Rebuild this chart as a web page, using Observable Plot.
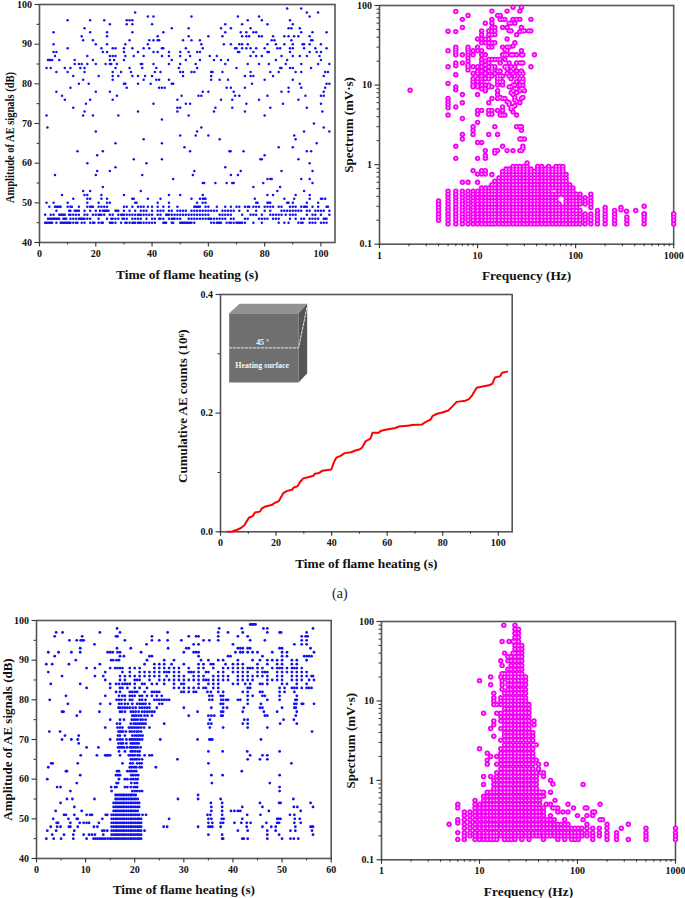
<!DOCTYPE html>
<html><head><meta charset="utf-8">
<script src="https://cdn.jsdelivr.net/npm/d3@7"></script>
<script src="https://cdn.jsdelivr.net/npm/@observablehq/plot@0.6"></script>
<style>html,body{margin:0;padding:0;background:#fff}#page{position:relative;width:685px;height:898px;overflow:hidden}
#cap{position:absolute;left:332px;top:586px;font:14px "Liberation Serif",serif;color:#222}</style></head>
<body><div id="page"><div id="cap">(a)</div></div>
<script>
// Panel (a) top-left: amplitude (dB) -> times (s)
const ampRowsA = [
[45,[2,2.5,3,3.5,4,4.5,6,7.5,8,8.5,9,9.5,10,10.5,11,12,13,13.5,15,16,18,19,19.5,21,22,22.5,25,25.5,26,27,29,30.5,31,32,33,33.5,34,35,35.5,36,37,38,39,40,41,44,44.5,45,47,47.5,50,50.5,51,51.5,52,52.5,53,53.5,54,55,61,62,63,63.5,64,64.5,66.5,67.5,68,69,70,70.5,71,71.5,72,73,76,79,85,87,88.5,92,93,93.5,96,97,98,100,101,102]],
[46,[3,3.5,4,4.5,5,5.5,6,6.5,7,8.5,9,9.5,11,12,13,14,14.5,15,15.5,16,17,18,21,24,25.5,26,27,28,29.5,30,31,33,34,35,36,38,40,41,42.5,43,44,46,47,47.5,48,49,50,53,54,55,56,57,58,59,60,60.5,61,62,63,64,65,66,68,69,73,74,78,79,80,81,83,84,85,89,91,93,94,96,97,98,99,101,101.5,102]],
[47,[2,4,5,7,7.5,8,8.5,9,10.5,11,12,13,14,16,17,19,20,21,21.5,22,23,25,26,28,29,29.5,30,31,32,33,34,35,35.5,36,37,38,39,40,42,43,45,45.5,46,47,48,49,50,51,52,53,54,55,56,57,58,59,60,64,65,66,67,68,72,75,76,77,79,82,83,84,85,86,87.5,89,90,91,95,97,98,100,103]],
[48,[6,10.5,11,12.5,13,13.5,14,16,18,20,21.5,22.5,23,23.5,24,24.5,27,27.5,28,30,32,34,36,37,38,40,42,43,44,46,47,49,50,51,52,54,55,56,57,58,59,60,61,62,63,65,66,67,68,69,71,74,77,80,82,86,87,88,89,90,91,92,93,95,96,98,99,100,101,103]],
[49,[3.5,5.5,6,6.5,7,7.5,10,11,11.5,14,17,18,18.5,19,21,22,23,24,30,31,33,35,36,37,38.5,40,42,44,46,49,55,55.5,56,56.5,57,59,60,63,66,68,70,71,73,74,74.5,76,77,78,80,81,82,83,85,86,89,90,91,93,94,94.5,95,97,99,102,102.5]],
[50,[2.5,5,10,17,21,24,25,34,34.5,42,46,56,58,59,77,77.5,81,81.5,82,88,88.5,90,95,99]],
[51,[12,17,18,22,24,33,33.5,38.5,43,54,57,58,58.5,59,76.5,87,90.5,96,100,100.5,101.5]],
[52,[8,16,17,22,30,46,50,58,81,83,91,96]],[53,[15.5,18,36,84.5,94]],[54,[22.5,76,85.5]],
[55,[58,58.5,62.5,66.5,68.5,69,79.5,97]],[56,[47.5,81,82,82.5,93,96]],[57,[5.5,20,36.5,54.5,68,70.5]],
[58,[20.5,25,55,71.5,86,97]],[59,[27,66]],[60,[17,38,96]],[61,[33.5,43.5,78.5,79,92]],[62,[20.5,80]],
[63,[13.5,22.5,53.5,67.5,67.9,72.5,95,96.5]],[64,[51.5,85,90]],[65,[27,43.5,98.5]],[66,[37,64,91]],
[67,[50,55.5,60,90.5]],[68,[20,56,94,103]],[69,[2.8,57.5,101]],[70,[97.5]],[71,[43.5]],
[72,[2.5,15.5,19,28,53,80]],[73,[16,35,49,62,73,100.5]],[74,[12,49,50,62.5,68.5,82,95]],
[75,[16.5,40.5,52,53.5,73.5,86.5,100]],[76,[9,18,26,49,64.5,68.5,78,92]],
[77,[8,27.5,50.5,56.5,57.5,69.5,71,81,94.5,100,101]],[78,[6,20,25,58,60,69,86,88.5,101]],
[79,[11,31,42.5,43.5,44.5,66.5,68,73,88.5,93,101.5]],[80,[14,17.5,30,30.5,35,39.5,47,47.5,75.5,92.5,102,103]],
[81,[15.5,26,37,41.5,42.5,46,61,64,67,80,90]],
[82,[12,21,26,28,33,35,37.5,40,51,61,73,75,76,83,101]],
[83,[6,10,16,26,29,32.5,41,43,50,51,54,55,61,61.5,65,75,82,85,91,93,101.5,102.5]],
[84,[2.5,4,9,11,14.5,16,27,32,36.5,41.5,49.5,56,70,85.5,86,89,90,96.5]],
[85,[12.5,14,15,17,20,23.5,25,25.5,27.5,36,36.5,40.5,46,50,55.5,66,74,78,81.5,87.5,93,99,103]],
[86,[3,3.5,4,4.5,7,12.5,19,25,26.5,30,47,52,57,62,64.5,67,84,88,100]],
[87,[5.5,17,25,26,27,30.5,33.5,37,43.5,46,50,53.5,60.5,63,75,77,79,86,90,92.5,95,99.5]],
[88,[5,6,22.5,24,30,35,40.5,42,46,50,53,56,57,70.5,71,76,81,81.5,89,96,98.5,100]],
[89,[10,22,26,27,30,33,37,39,43.5,44,52,58,69.5,70,72,73.5,75,77,80,84.5,85.5,89,90,94,98,102]],
[90,[5,20,24,30.5,38.5,57.5,65.5,68,71,72,74,81,84,87,90,93.5,94,96,100]],
[91,[15.5,19,32,39,40.5,42,42.5,51,54,57,82.5,83.5,89.5,96.5,97]],
[92,[15,24,42,53,60,65,72,73.5,74.5,78,79,83,87,88.5,90.5,92,96]],
[93,[5,18,24,33,44,66,71.5,73.5,76,77,93,97,102]],[94,[16,47,53,64.5,68,75,88.5,89.5,92.5]],
[95,[25,31,33,40,66,72,81,90]],[96,[10,18,23,31,32,33,74,79,89]],[97,[38.5,40.5,54,70.5,78,96]],
[98,[34,95,99]],[99,[88,93]]];

// Spectrum levels seen in the top-right panel
const levelsB = [.18,.2,.22,.24,.265,.29,.32,.35,.385,.425,.465,.51,.56,.62,.68,.75,.82,.88,.95,1.05];
// frequency, lowest level, highest level of each filled run
const bandsB = [[4,.2,.37],[5,.18,.465],[6,.18,.465],[7,.18,.465],[8,.18,.465],[9,.18,.465],[10,.18,.465],[11,.18,.51],[12,.18,.51],[13,.18,.51],[14,.18,.56],[15,.18,.62],[16.5,.18,.68],[18,.18,.82],[19.5,.18,.88],[21,.18,.88],[23,.18,.95],[25,.18,.95],[27,.18,.95],[29.5,.18,.95],[32,.18,1.05],[35,.18,.88],[38,.18,.82],[41,.18,.95],[45,.18,.95],[49,.18,.88],[53,.18,.465],[53,.56,.95],[58,.18,.425],[58,.51,.88],[63,.18,.425],[63,.51,.95],[68,.18,.32],[68,.425,.95],[74,.18,.29],[74,.425,.95],[80,.18,.265],[80,.32,.465],[80,.56,.75],[87,.18,.24],[87,.29,.56],[94,.18,.265],[94,.32,.51],[102,.18,.24],[102,.29,.425],[111,.18,.265],[111,.32,.425],[125,.18,.24],[125,.32,.385],[143,.18,.24],[143,.29,.425],[167,.18,.265],[200,.18,.29],[250,.18,.265],[333,.18,.22],[500,.18,.24],[1000,.18,.24]];
const looseB = [[2.05,[8.6]],[5,[47.5,27,17,10.5,6.8,6.2,5.7,5.2,4.2]],[6,[84,47,30,28,26,24,19,17.5,13.5,9.5,8.7,5.3,1.7,1.2]],[7,[67,53,24,19,7.6,6,3.8,2.4,2.1,.6]],[8,[75,30,28,26,24,22,20,18,17,15.5,.6]],[9,[27,24,17,14,12,11,10,9.5,3,2.7,2.4,.84]],[10,[38,30,27,17,15,14,12,11,10,9.5,7.6,4.8,4.3,3.4,1.9,1.2,.76,.6]],[11,[48,43,38,34,27,24,21,19,17,15,13,11,10,9,4.8,1.9,.84,.76]],[12,[60,38,34,24,20,18,16,14,12,10,9,8.5,1.5,1.3,1.2,.84,.76]],[13,[48,43,38,34,30,21,19,17,15,13,12,10,9.5,6,4.8,4.3,2.4]],[14,[85,67,60,53,43,34,30,21,17,16,15,13,9.5,6.8,4.8,4.3,.75]],[15,[53,48,43,34,21,17,14,3,1.5,1.4]],[16,[75,21,15,13,12,11,10,8.5,7.6,6.8,4.8,2.4,1.5]],[17,[75,67,21,19,15,13,12,11,7,4.2]],[18,[67,53,30,24,13,11,10,6.8,5.3,4.8,4.2,1.7]],[19,[67,28,24,21,17,6.8,4.2]],[20,[85,53,38,30,27,24,17,16,14,6.2,1.5]],[21,[60,48,30,19,13,9.5,6,5.7]],[22,[60,48,24,17,15,12,9.5,8,5.3,5]],[23,[95,67,31,24,16,14,10,8.5,7.6,5.3,4.6,1.5]],[24,[60,34,17,13,10,9,7,6.5,5.5]],[25,[67,43,24,19,15,11,9,8,6.2,4.2,3]],[27,[85,67,47,19,14,12,10,8.5,6,3,2.1,1.5]],[28,[95,53,27,24,19,15,13,11,9,6.8,3,2.7,2.1,1.5]],[29,[48,24,19,14,12,11,10,9,7,1.7,1.6]],[30,[48,8.5,2.1]],[33,[48]],[35,[67,48,17]],[38,[24]],[290,[.29,.27]],[330,[.26]],[410,[.265]],[500,[.3,.24]],[1000,[.24]]];

// Cumulative curve, middle panel
const curveT = [2.6,4.2,6,7.2,8.6,10.2,11.6,12.4,14.2,14.8,16.2,18.4,19.6,21,22.6,24,25.8,26.4,27.8,28.6,29.8,31.5,33.4,34,35.4,36.7,39.9,40.8,41.7,43.2,44.7,47,48.6,50.2,51,52.3,54,54.7,57,57.6,59.4,63,64.2,68.2,68.7,72.6,73.8,75.6,76.4,78,79.8,82,83.4,85,88.2,89.4,90.6,92.2,93.9,96.6,97.8,98.8,100.6,101.4,103.2];
const curveC = [0,.0006,.0034,.006,.011,.0236,.0264,.0326,.034,.039,.0427,.045,.049,.0517,.065,.069,.071,.0747,.077,.084,.09,.092,.0944,.098,.099,.103,.105,.117,.125,.128,.1326,.134,.137,.139,.142,.153,.157,.167,.167,.17,.172,.175,.1775,.179,.18,.181,.185,.189,.1955,.199,.201,.2045,.211,.219,.221,.2236,.23,.2427,.2444,.247,.2494,.26,.262,.268,.27];
// Inset block, in the axes' units
const blockTop = [[3.12,.3685],[6.84,.3843],[31.2,.3843],[28.1,.3685]];
const blockSide = [[28.1,.3685],[31.2,.3843],[31.2,.2674],[28.1,.2517]];
const blockFront = [[3.12,.3685],[28.1,.3685],[28.1,.2517],[3.12,.2517]];
const blockDash = [[3.12,.31],[28.1,.31],[31.2,.38]];

// Panel bottom-left: dense block times, then rows
const denseT = [15.3,15.7,16.1,16.4,16.8,17.2,17.6,17.9,18.3,18.7,19.1,19.4,19.8,20.2,20.6,20.9,21.3];
const denseRows = [[45,15.3,21.3],[46,15.3,21.3],[47,15.3,21.3],[48,15.3,21.3],[49,15.3,21.3],[50,15.3,21.3],[51,15.3,21],[52,15.7,20.6],[53,15.7,20.9],[54,15.7,20.9],[55,16.1,20.6],[56,16.1,20.2]];
const ampRowsD = [
[45,[2,3.5,5,7.5,10.2,11.6,12,12.4,12.8,13.2,13.6,14,14.5,15,37.8,38,41.9,42.2,43,47,50,51.7,52.4,53.3]],
[46,[3.2,5.6,7.5,9.6,10.7,11.3,11.9,13.6,35,37.8,47,49.4,56.3]],
[47,[2.2,4,7.7,13.4,13.8,14.4,22,41,43,47,48.7,51.7,52.7,56.1]],
[48,[2.9,4.2,4.9,6.6,6.9,8.4,11.7,12.4,25.9,26.6,32.9,35,35.4,35.8,37.5,42.8,46,47.8,48.7,52.7,55.8,56.1,56.3]],
[49,[4.1,4.4,6.9,8.8,9.6,10.2,10.7,12.7,35,35.8,37.5,38,40.3,41.7,42.8,43.6,46.8,49,49.4,52.5,53.8]],
[50,[3.4,6.5,8.2,8.4,13.4,27,35,35.6,37.7,38.1,41.9,49,49.3,49.7,52.6,53.6]],
[51,[5.6,6,7.7,10.2,10.9,11.3,14.1,14.4,21.6,22.3,34.8,35.4,37.8,42.9,45.6,51.6,52.5]],
[52,[3.9,9.2,35.6,37.8,39.6,40.3,41,41.5,47.3,53.8]],[53,[7.7,35.6,37.8,41.9,46,52.4,53.1,56.3]],
[54,[4.9,35.5,37.8,45.5,49.4,49.7,55.8]],[55,[6.2,7.3,11.8,28.8,32.9,37.5,52.3]],[56,[32.9]],
[57,[6.9,15.3,19.5,20,20.5,21,21.5,49.5]],[58,[4.2,4.9,15.2,16,16.3,18,18.5,19.2,19.8,20.2,20.5,49.5]],
[59,[8.2,16.3,16.6,19.3,20,20.5,35.7,47.5]],[60,[2.2,16.8,18,18.5,19.2,19.7,20.2,20.6]],
[61,[8.9,16.2,16.6,17,19.3,19.7,20.2,20.7,35.6,37.9,49.5]],[62,[6,6.2,16.4,16.8,18.5,19,19.4,19.8,20.3,41.8]],
[63,[2.4,19,19.4,19.9,20.3,21,21.4,24.3]],[64,[3,3.3,8.4,17.5,19.1,19.6,20.5,21,21.4,35,51.9]],
[65,[19.2,19.6,20,20.4,20.9,21.5,28.7,43,45.5,47]],[66,[9,12.3,14,14.3,14.6,15,17,18.8,19.2,19.6,20,20.6,21,22,23,23.5,43.5,46,47]],
[67,[16.8,18,19.2,19.6,20.1,20.6,21,35,37.9,42.9,49.5]],[68,[10.2,12.6,16.6,17,17.4,17.8,18.4,19,19.4,19.8,20.2,20.6,21.2]],
[69,[8.6,16.7,17.2,17.6,18.3,19.2,19.6,20,20.4,20.8]],[70,[5.2,7.1,8.4,15,16.5,17,17.5,18.3,19,19.4,19.8,20.2,20.6,21,21.5,25.2,32.8,35.2,35.5,35.8,45.7]],
[71,[5.8,8.6,16.6,17,18,19.5,20,20.4,20.8,21.2,21.6]],[72,[2.6,4.8,16.7,17,17.3,17.6,18.2,19,19.4,19.9,20.4,20.8,21.3,56.1]],
[73,[14,16.5,17,17.5,18.8,19.2,19.6,20,20.4,20.8,21.3,21.9,23,35.3,38,43,47]],[74,[16.4,17,19.2,19.8,20.2,20.6,21,21.4,21.8,22.2,26,35,35.6,42,43,49.6,53]],
[75,[15,17,17.8,19.4,19.8,20.2,20.6,21.2,21.6,22.2,35.3,42.3,43,50.3,52.4]],
[76,[8.2,19.5,19.9,20.3,20.8,21.3,22,22.6,23.5,31,35,35.6,36.2,37.6,37.9,46.5,47,52.8]],
[77,[5.2,5.5,8.9,12.8,17,17.4,18,19.2,19.7,20.2,20.8,21.5,22,22.5,23,23.5,24,32.8,37.6,38,42,46.3,49,53]],
[78,[16.7,17,17.5,18,18.5,19,19.6,20.2,21,21.5,22,22.5,23,24.5,30,35.6,38,38.8,42.2,45.5,46,50,52.5,52.8]],
[79,[6.4,13,15,16.8,17.3,18,18.6,19.5,20.5,21,21.4,21.8,22.2,23,25,25.6,37.5,38,43,45.7,52.5,52.9,54,54.3,56.5]],
[80,[2.7,16.3,16.8,17.3,18,19,19.5,21,21.5,22.2,24,24.5,25,25.5,26,26.5,27,35.2,35.8,37.6,38,38.6,39,41,41.5,43,47,49.5,52.7,53]],
[81,[6,14,16.8,17.5,18,19,19.5,20,21,21.5,22.5,23.5,24.5,25.5,35.2,35.8,37.5,38,43,44,46,46.5,49.5,53]],
[82,[16.2,17,19,19.5,20,20.5,22,23.5,24,24.5,25,29.5,30,31,32,32.5,34.8,35.5,37,38,42,43,45.5,46,49.5,50.5,52.5]],
[83,[10.2,15,17,17.5,18.5,20,21,22.5,28,29,30,31,32,33,34,34.5,36,37,43,43.5,49.5,50.5,52,52.5,53,54,55,55.5,56]],
[84,[2.9,8.9,15,16.2,16.8,17.5,18,18.5,19,20,21.5,22,23.5,24.5,26,28,29.5,30,33,35,36,37,40,41,42.5,43.5,45.5,46,47,50,51,53,55]],
[85,[14,17,18,20,20.5,21,23,25,26,27,28,29,30,31,32,33,34,34.5,35,36,37,38,39,41,42,43,44,47,48,49,50,52,53,54,55.5,56.5]],
[86,[5.2,11.9,13.6,17,18,19,20,21,22,23,24,25,26.5,28,29,30,32,33,34,36,37,38,39,41,42,43,44,45,46,47,49,50,52,53,54,55,56,56.3]],
[87,[2.4,14,17.5,19,21,22,23,24,25,26,26.5,27,28,29,31,31.5,32,33,34.5,35,37,38,40,41,42,43,45,46,46.5,47,49,50,51,52,53,54,55]],
[88,[10.2,11.9,15,16,16.5,17,17.5,19,20,21,24,25,26,27,28,29,31,33,34,36,38,39,40,41,42,43,43.5,44,45,46,48,49,49.5,50,51,52,52.5,53,54]],
[89,[2,3.2,6.6,12.9,22,24,25,26,27.5,30,33,34,35.5,36,38.5,40,41,42,45,47,49,50,52,53]],
[90,[8,15.2,15.6,16.3,16.8,22.5,26,28,33.5,35,37,38,41,44,45.5,47,48,49,50,52,53,55]],
[91,[3.7,17,17.8,23,23.5,33,39,39.5,46,50,51,54.5,55,55.5,56]],
[92,[2.4,4.5,7.1,8.9,14.5,15,15.5,16.5,17,21.3,30,32,32.5,33,40.5,41.5,42,43,44,45,48,50,51,56.5]],
[93,[8.9,16.4,19.2,26.8,30.5,31,41,41.5,42,43,43.5,49.5,50,55.8]],[94,[11.8,22.4,32,33,40,52.5,54,55]],
[95,[6.7,8.2,9,9.3,9.6,18,23.5,25,26.7,29.5,34,35.2,37,43.5,46.5,54,55]],[96,[3.7,9.3,16.2,16.5,23.5,31,32.5,33,37,41,43,54,54.8,55.2]],
[97,[4,5.3,12.9,17,26.7,37,39,42,47,49.5,49.8,55]],[98,[16.4,37.2,41.8,46.2,47,56.3]],[99,[43.5,43.8,44,44.3,44.6]]];

// Spectrum levels in the bottom-right panel
const levelsE = [.18,.2,.22,.25,.28,.32,.36,.4,.45,.5,.56,.63,.71,.79,.89,1,1.12,1.25,1.4,1.6,1.8,2,2.2,2.5,2.8,3.2,3.6,4,4.5,5,5.6,6.3,7.1,8,9,10,11,12.5,14,16,18,20,22,25,28,32,36,40,45,50,56,63,71,80,90];
const bandsE = [[7,.18,.4],[8,.2,.4],[9,.18,.56],[10,.18,.5],[11,.18,.63],[12,.18,.71],[13,.18,.71],[14,.18,1],[15,.18,1.25],[16.5,.2,2.5],[18,.18,12.5],[19.5,.18,25],[21,.18,36],[23,.18,90],[25,.2,80],[27,.18,50],[29.5,.2,20],[32,.18,9],[35,.2,4],[38,.2,1.25],[41,.2,.71],[45,.18,.45],[49,.2,.32],[53,.2,.36],[58,.2,.32],[63,.18,.28],[68,.2,.28],[74,.18,.32],[80,.2,.28],[87,.18,.25],[94,.18,.25],[102,.18,.25],[111,.2,.25],[125,.2,.28],[143,.18,.25],[167,.2,.25],[200,.18,.28],[250,.18,.22],[500,.18,.25],[1000,.18,.25]];
const looseE = [[4.9,[.28]],[6,[.5,.45,.32,.29,.22,.18]],[10,[18,2.5]],[11,[7,1.12,.89]],[12,[2.2,1.8,1.6]],[13,[20,16,4.5,2,1.12]],[14,[12.5,11,10,9,5.6,5,3.6]],[15,[9,7,2,1.6]],[16.5,[32,20,11,10,9,7,6.3,5.6,4.5,3.2]],[17,[56,28,22,18,16,14]],[17.7,[90]],[18,[40,22,20]],[19.5,[36,32]],[20,[56]],[22,[56,40]],[36,[5.6,5,2.8]],[38,[2.8,1.8]],[40,[1.6,1.4]],[42,[1.25,.71,.63]],[45,[1.25,1.12,.71,.63]],[48,[1.6,.5]],[53,[1,.71,.5]],[56,[.9,.45]],[59,[.56,.45]],[63,[.45,.4]],[71,[.4]],[80,[.5,.4]],[91,[.45]],[100,[.36]],[114,[.89,.32]],[120,[.45]],[125,[.45,.36]],[143,[.4,.36]],[150,[.4]],[170,[.5,.32]],[180,[.32]],[280,[.25]],[330,[.28,.18]]];

const xTicksA=[0,20,40,60,80,100], xMinorA=[10,30,50,70,90];
const yTicksA=[40,50,60,70,80,90,100], yMinorA=[45,55,65,75,85,95];
const yTicksC=[0,.2,.4], yMinorC=[.1,.3];
const xTicksD=[0,10,20,30,40,50,60], xMinorD=[5,15,25,35,45,55];
const logX=[1,10,100,1000], logXMinor=[2,3,4,5,6,7,8,9,20,30,40,50,60,70,80,90,200,300,400,500,600,700,800,900];
const logY=[.1,1,10,100], logYMinor=[.2,.3,.4,.5,.6,.7,.8,.9,2,3,4,5,6,7,8,9,20,30,40,50,60,70,80,90];

const rows = r => r.flatMap(([v,ts]) => ts.map(t => ({x:t,y:v})));
const cols = c => c.flatMap(([f,ss]) => ss.map(s => ({x:f,y:s})));
const bands = (b,lv) => b.flatMap(([f,lo,hi]) => lv.filter(v=>v>=lo-1e-9&&v<=hi+1e-9).map(s=>({x:f,y:s})));
const AXIS="#333";
function panel(box, o){
  const ml=42, mr=12, mt=8, mb=44;
  const fmt=o.fmt||(d=>String(d));
  const fmtY=o.fmtY||(d=>String(d));
  const marks=[
    Plot.frame({stroke:"#555",strokeWidth:1.6}),
    ...(o.marks||[]),
    Plot.axisX({ticks:o.xt,tickSize:4.5,tickPadding:3,label:null,tickFormat:fmt,fontSize:10,stroke:AXIS,strokeWidth:1.1,fill:"#111"}),
    Plot.axisX({ticks:o.xm,tickSize:2.5,label:null,fill:"none",stroke:AXIS}),
    Plot.axisY({ticks:o.yt,tickSize:4.5,tickPadding:3,label:null,tickFormat:fmtY,fontSize:10,stroke:AXIS,strokeWidth:1.1,fill:"#111"}),
    Plot.axisY({ticks:o.ym,tickSize:2.5,label:null,fill:"none",stroke:AXIS}),
    Plot.text([o.xl],{text:d=>d,frameAnchor:"bottom",dy:o.xd,fontSize:13.4,lineAnchor:"middle",fill:"#111"}),
    Plot.text([o.yl],{text:d=>d,frameAnchor:"left",textAnchor:"middle",dx:-o.yd,dy:o.ydy||0,rotate:-90,fontSize:13,fill:"#111"})
  ];
  const svg=Plot.plot({
    width:box.r-box.l+ml+mr,height:box.b-box.t+mt+mb,
    marginLeft:ml,marginRight:mr,marginTop:mt,marginBottom:mb,
    x:{type:o.log?"log":"linear",domain:o.xd0},
    y:{type:o.log?"log":"linear",domain:o.yd0},
    style:{fontFamily:'"Liberation Serif",serif',fontWeight:"bold",fontSize:"11px",background:"transparent",overflow:"visible",color:"#111"},
    marks});
  svg.style.position="absolute";svg.style.left=(box.l-ml)+"px";svg.style.top=(box.t-mt)+"px";
  if(o.ylen) for(const t of svg.querySelectorAll("text")) if(t.textContent===o.yl){t.setAttribute("textLength",o.ylen);t.setAttribute("lengthAdjust","spacingAndGlyphs");}
  document.getElementById("page").appendChild(svg);
}
const blueDots=(d,r)=>[Plot.dot(d,{x:"x",y:"y",r:r,fill:"#1010f0"})];
const sphere=d=>[
  Plot.dot(d,{x:"x",y:"y",r:2.7,fill:"#f400f4"}),
  Plot.dot(d,{x:"x",y:"y",r:.9,fill:"#ffc8ff"})];

panel({l:38.5,r:334,t:4,b:242},{xd0:[0,105],yd0:[40,100],xt:xTicksA,xm:xMinorA,yt:yTicksA,ym:yMinorA,
  xl:"Time of flame heating (s)",yl:"Amplitude of AE signals (dB)",xd:32,yd:30,ydy:14,ylen:131,marks:blueDots(rows(ampRowsA),1.25)});
panel({l:378.5,r:672.7,t:5,b:243.7},{log:true,xd0:[1,1000],yd0:[.1,100],xt:logX,xm:logXMinor,yt:logY,ym:logYMinor,
  xl:"Frequency (Hz)",yl:"Spectrum (mV·s)",xd:32,yd:31,marks:sphere([...bands(bandsB,levelsB),...cols(looseB)])});
panel({l:220,r:511.7,t:293.7,b:531},{xd0:[0,105],yd0:[0,.4],xt:xTicksA,xm:xMinorA,yt:yTicksC,ym:yMinorC,fmtY:d=>d.toFixed(1),
  xl:"Time of flame heating (s)",yl:"Cumulative AE counts (10⁶)",xd:32,yd:38,ydy:-7,marks:[
   Plot.line(blockFront,{x:"0",y:"1",fill:"#6f6f6f",stroke:"none"}),
   Plot.line(blockTop,{x:"0",y:"1",fill:"#929292",stroke:"none"}),
   Plot.line(blockSide,{x:"0",y:"1",fill:"#555555",stroke:"none"}),
   Plot.line(blockDash,{x:"0",y:"1",stroke:"#e6e6e6",strokeWidth:1,strokeDasharray:"2.5,1.5"}),
   Plot.text(["45 °"],{x:[15.2],y:[.32],text:d=>d,fill:"#f4f4f4",fontSize:8}),
   Plot.text(["Heating surface"],{x:[15],y:[.28],text:d=>d,fill:"#f4f4f4",fontSize:8}),
   Plot.line(curveT.map((t,i)=>[t,curveC[i]]),{x:"0",y:"1",stroke:"#ff0000",strokeWidth:2})]});
panel({l:36,r:330.7,t:620,b:858},{xd0:[0,60],yd0:[40,100],xt:xTicksD,xm:xMinorD,yt:yTicksA,ym:yMinorA,
  xl:"Time of flame heating (s)",yl:"Amplitude of AE signals (dB)",xd:31,yd:29,
  marks:blueDots([...denseRows.flatMap(([a,lo,hi])=>denseT.filter(t=>t>=lo&&t<=hi).map(t=>({x:t,y:a}))),...rows(ampRowsD)],1.4)});
panel({l:380.7,r:674.7,t:621,b:859.3},{log:true,xd0:[1,1000],yd0:[.1,100],xt:logX,xm:logXMinor,yt:logY,ym:logYMinor,
  xl:"Frequency (Hz)",yl:"Spectrum (mV·s)",xd:32,yd:31,marks:sphere([...bands(bandsE,levelsE),...cols(looseE)])});
</script></body></html>
